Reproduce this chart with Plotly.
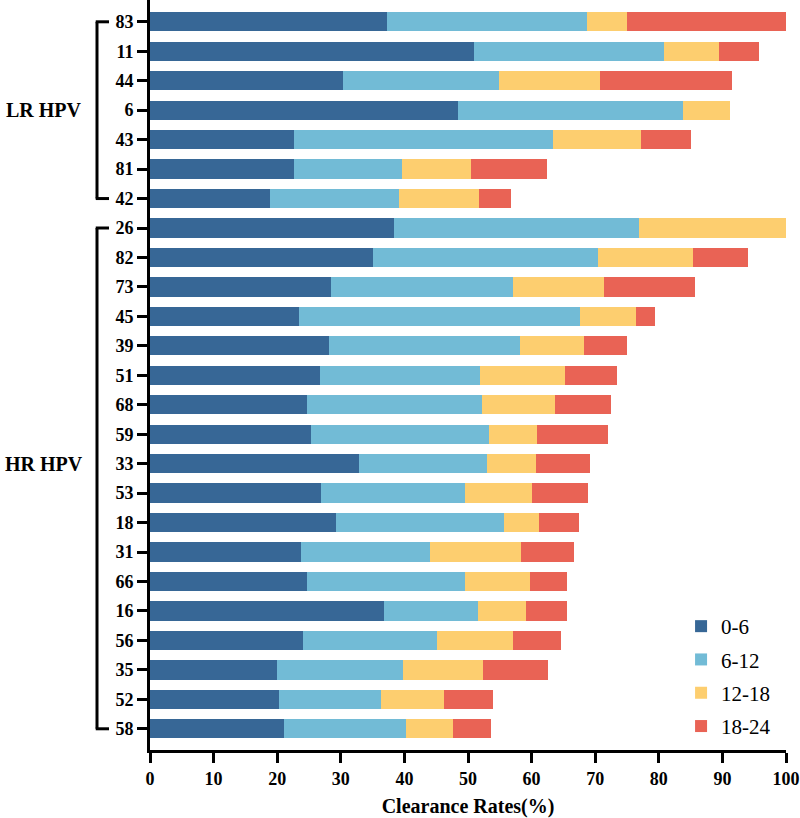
import plotly.graph_objects as go

types = ["83", "11", "44", "6", "43", "81", "42",
         "26", "82", "73", "45", "39", "51", "68", "59", "33", "53", "18",
         "31", "66", "16", "56", "35", "52", "58"]
series_names = ["0-6", "6-12", "12-18", "18-24"]
v_0_6 = [37.3, 51.0, 30.4, 48.5, 22.6, 22.7, 18.8,
         38.4, 35.1, 28.4, 23.4, 28.2, 26.8, 24.7, 25.3, 32.8, 26.9, 29.3,
         23.7, 24.7, 36.8, 24.0, 19.9, 20.3, 21.0]
v_6_12 = [31.4, 29.8, 24.5, 35.3, 40.7, 16.9, 20.4,
          38.5, 35.4, 28.7, 44.2, 29.9, 25.1, 27.5, 28.0, 20.2, 22.6, 26.4,
          20.3, 24.8, 14.8, 21.2, 19.9, 16.0, 19.3]
v_12_18 = [6.3, 8.6, 15.8, 7.4, 13.9, 10.9, 12.5,
           23.1, 14.8, 14.3, 8.8, 10.1, 13.3, 11.5, 7.6, 7.7, 10.6, 5.4,
           14.3, 10.3, 7.5, 11.8, 12.6, 10.0, 7.3]
v_18_24 = [25.0, 6.4, 20.8, 0.0, 7.9, 11.9, 5.1,
           0.0, 8.8, 14.3, 3.0, 6.8, 8.2, 8.8, 11.1, 8.5, 8.8, 6.3,
           8.3, 5.8, 6.5, 7.7, 10.1, 7.6, 6.0]
groups = [("LR HPV", 0, 6, 3), ("HR HPV", 7, 24, 15)]

colors = ["#376796", "#72BBD6", "#FDCE6F", "#E96355"]
font_family = "Liberation Serif, DejaVu Serif, serif"

ypos = list(range(len(types)))
fig = go.Figure()
for name, vals, col in zip(series_names, [v_0_6, v_6_12, v_12_18, v_18_24], colors):
    fig.add_trace(go.Bar(
        y=ypos, x=vals, name=name, orientation="h",
        marker=dict(color=col, line=dict(width=0)),
        width=0.655, legendgroup=name,
    ))

PLOT_L, PLOT_W = 150, 636
def px_to_paper(px):
    return (px - PLOT_L) / PLOT_W

shapes = []
bx = px_to_paper(97)
bx2 = px_to_paper(109)
for label, a, b, mid in groups:
    line = dict(color="black", width=3)
    shapes.append(dict(type="line", xref="paper", yref="y", x0=bx, x1=bx, y0=a, y1=b, line=line))
    shapes.append(dict(type="line", xref="paper", yref="y", x0=bx - 0.002, x1=bx2, y0=a, y1=a, line=line))
    shapes.append(dict(type="line", xref="paper", yref="y", x0=bx - 0.002, x1=bx2, y0=b, y1=b, line=line))

annotations = []
for label, a, b, mid in groups:
    annotations.append(dict(
        text="<b>" + label + "</b>", xref="paper", yref="y", x=px_to_paper(44), y=mid,
        showarrow=False, xanchor="center", yanchor="middle",
        font=dict(family=font_family, size=20, color="black"),
    ))

fig.update_layout(
    barmode="stack",
    width=800, height=818,
    margin=dict(l=150, r=14, t=0, b=68),
    plot_bgcolor="white", paper_bgcolor="white",
    font=dict(family=font_family, color="black"),
    xaxis=dict(
        range=[0, 100], tickvals=list(range(0, 101, 10)),
        ticktext=["<b>%d</b>" % v for v in range(0, 101, 10)],
        showgrid=False, zeroline=False,
        showline=True, linecolor="black", linewidth=3,
        ticks="outside", ticklen=10, tickwidth=3, tickcolor="black",
        tickfont=dict(family=font_family, size=18, color="black"),
        title=dict(text="<b>Clearance Rates(%)</b>", standoff=12,
                   font=dict(family=font_family, size=20, color="black")),
    ),
    yaxis=dict(
        range=[len(types) - 1 + 0.72, -0.74],
        tickvals=ypos, ticktext=["<b>" + t + "</b>" for t in types],
        showgrid=False, zeroline=False,
        showline=True, linecolor="black", linewidth=3,
        ticks="outside", ticklen=10, tickwidth=3, tickcolor="black",
        tickfont=dict(family=font_family, size=18, color="black"),
    ),
    legend=dict(
        x=0.835, y=0.192, xanchor="left", yanchor="top",
        traceorder="grouped", tracegroupgap=3,
        font=dict(family=font_family, size=21, color="black"),
        bgcolor="rgba(0,0,0,0)",
    ),
    shapes=shapes, annotations=annotations,
)

fig.write_html("out.html")
